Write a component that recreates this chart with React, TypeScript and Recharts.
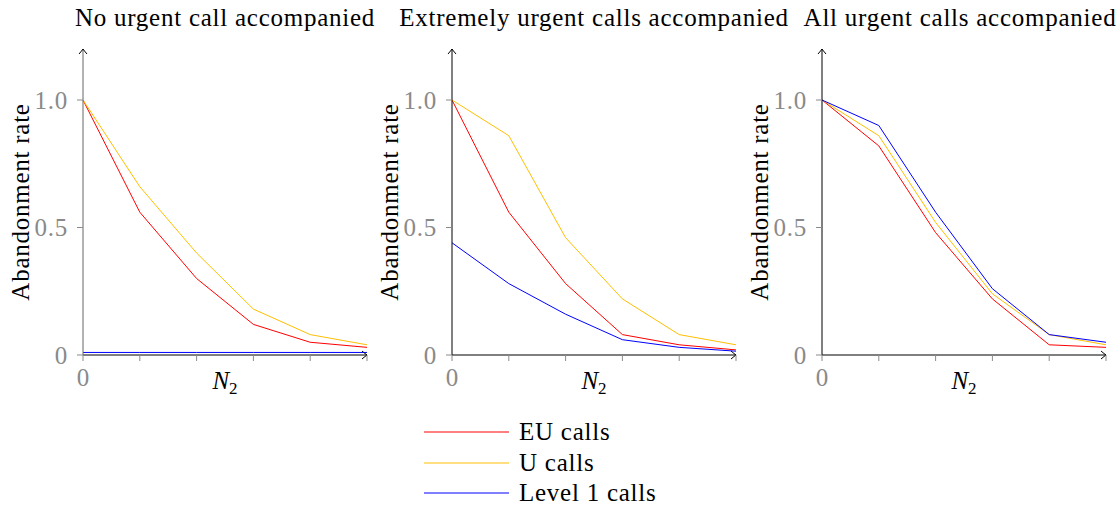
import React from 'react';
import { LineChart, Line, XAxis, YAxis } from 'recharts';

const nValues = [0, 1, 2, 3, 4, 5];
const xTicks = [0, 1, 2, 3, 4, 5];
const yTicks = [0, 0.5, 1];

const panelTitles = [
  'No urgent call accompanied',
  'Extremely urgent calls accompanied',
  'All urgent calls accompanied',
];

const panel1EU = [1.0, 0.56, 0.3, 0.12, 0.05, 0.03];
const panel1U = [1.0, 0.66, 0.4, 0.18, 0.08, 0.04];
const panel1L1 = [0.01, 0.01, 0.01, 0.01, 0.01, 0.01];

const panel2EU = [1.0, 0.56, 0.28, 0.08, 0.04, 0.02];
const panel2U = [1.0, 0.86, 0.46, 0.22, 0.08, 0.04];
const panel2L1 = [0.44, 0.28, 0.16, 0.06, 0.03, 0.015];

const panel3EU = [1.0, 0.82, 0.48, 0.22, 0.04, 0.03];
const panel3U = [1.0, 0.86, 0.52, 0.24, 0.08, 0.04];
const panel3L1 = [1.0, 0.9, 0.56, 0.26, 0.08, 0.05];

const seriesNames = ['EU calls', 'U calls', 'Level 1 calls'];
const seriesKeys = ['eu', 'u', 'l1'];
const seriesColors = ['#ff0000', '#ffbf00', '#0000ff'];

const FONT = '"Liberation Serif", serif';
const FS = 25;
const LS = 0.75;
const GREY = '#8a8a8a';

function buildData(eu: number[], u: number[], l1: number[]) {
  return nValues.map((n, i) => ({ n, eu: eu[i], u: u[i], l1: l1[i] }));
}

const panels = [
  { data: buildData(panel1EU, panel1U, panel1L1), left: 0, yAxisColor: '#666' },
  { data: buildData(panel2EU, panel2U, panel2L1), left: 369, yAxisColor: '#000' },
  { data: buildData(panel3EU, panel3U, panel3L1), left: 739, yAxisColor: '#000' },
];

const CHART_W = 380;
const CHART_H = 400;
const MARGIN = { top: 49, right: 13, bottom: 15, left: 43 };

const YTick = (props: any) => {
  const { x, y, payload } = props;
  const v = payload.value;
  const label = v === 0 ? '0' : v.toFixed(1);
  return (
    <text x={x} y={y} textAnchor="end" dominantBaseline="central" fill={GREY} fontFamily={FONT} fontSize={FS} letterSpacing={LS}>
      {label}
    </text>
  );
};

const XTick = (props: any) => {
  const { x, y, payload } = props;
  if (payload.value !== 0) return <g />;
  return (
    <text x={x} y={y + 14} textAnchor="middle" dominantBaseline="central" fill={GREY} fontFamily={FONT} fontSize={FS}>
      0
    </text>
  );
};

const YLabel = (props: any) => {
  const vb = props.viewBox || {};
  const cx = (vb.x ?? 43) - 14;
  const cy = (vb.y ?? 49) + (vb.height ?? 306) / 2;
  return (
    <text
      x={cx}
      y={cy}
      transform={`rotate(-90, ${cx}, ${cy})`}
      textAnchor="middle"
      fill="#000"
      fontFamily={FONT}
      fontSize={FS}
      letterSpacing={LS}
    >
      Abandonment rate
    </text>
  );
};

const XLabel = (props: any) => {
  const vb = props.viewBox || {};
  const cx = (vb.x ?? 83) + (vb.width ?? 284) / 2;
  const by = (vb.y ?? 355) + 34;
  return (
    <text x={cx} y={by} textAnchor="middle" fill="#000" fontFamily={FONT} fontSize={FS}>
      <tspan fontStyle="italic">N</tspan>
      <tspan fontSize={17} dy={5}>2</tspan>
    </text>
  );
};

function Panel({ data, left, yAxisColor }: any) {
  return (
    <div style={{ position: 'absolute', left, top: 0 }}>
      <LineChart width={CHART_W} height={CHART_H} data={data} margin={MARGIN}>
        <XAxis
          dataKey="n"
          type="number"
          domain={[0, 5]}
          ticks={xTicks}
          height={30}
          tickSize={6}
          tickMargin={2}
          tick={<XTick />}
          tickLine={{ stroke: GREY }}
          axisLine={{ stroke: '#000', strokeWidth: 1, markerEnd: 'url(#axisArrow)' }}
          label={{ content: <XLabel /> }}
          interval={0}
        />
        <YAxis
          type="number"
          domain={[0, 1.2]}
          ticks={yTicks}
          width={40}
          tickSize={6}
          tickMargin={9}
          tick={<YTick />}
          tickLine={{ stroke: GREY }}
          axisLine={{ stroke: yAxisColor, strokeWidth: 1, markerStart: 'url(#axisArrow)' }}
          label={{ content: <YLabel /> }}
          interval={0}
        />
        {seriesKeys.map((k, i) => (
          <Line
            key={k}
            type="linear"
            dataKey={k}
            stroke={seriesColors[i]}
            strokeWidth={1}
            dot={false}
            activeDot={false}
            isAnimationActive={false}
          />
        ))}
      </LineChart>
    </div>
  );
}

const titleCenters = [225, 594, 960];
const legendX1 = 424;
const legendX2 = 509;
const legendYs = [432, 463, 493];

export default function App() {
  return (
    <div
      style={{
        position: 'absolute',
        left: 0,
        top: 0,
        width: 1120,
        height: 506,
        background: '#fff',
        overflow: 'hidden',
      }}
    >
      <svg width={0} height={0} style={{ position: 'absolute' }}>
        <defs>
          <marker
            id="axisArrow"
            viewBox="-7 -5 9 10"
            refX={0}
            refY={0}
            markerWidth={9}
            markerHeight={10}
            markerUnits="userSpaceOnUse"
            orient="auto-start-reverse"
            overflow="visible"
          >
            <path d="M -5 -4 Q -1.5 -1 0 0 Q -1.5 1 -5 4" fill="none" stroke="#000" strokeWidth={1} />
          </marker>
        </defs>
      </svg>
      <svg width={1120} height={506} style={{ position: 'absolute', left: 0, top: 0 }}>
        {panelTitles.map((t, i) => (
          <text key={t} x={titleCenters[i]} y={26} textAnchor="middle" fill="#000" fontFamily={FONT} fontSize={FS} letterSpacing={LS}>
            {t}
          </text>
        ))}
        {seriesNames.map((name, i) => (
          <g key={name}>
            <line x1={legendX1} x2={legendX2} y1={legendYs[i]} y2={legendYs[i]} stroke={seriesColors[i]} strokeWidth={1} />
            <text x={519} y={legendYs[i] + 8} fill="#000" fontFamily={FONT} fontSize={FS} letterSpacing={LS}>
              {name}
            </text>
          </g>
        ))}
      </svg>
      {panels.map((p, i) => (
        <Panel key={i} data={p.data} left={p.left} yAxisColor={p.yAxisColor} />
      ))}
    </div>
  );
}
